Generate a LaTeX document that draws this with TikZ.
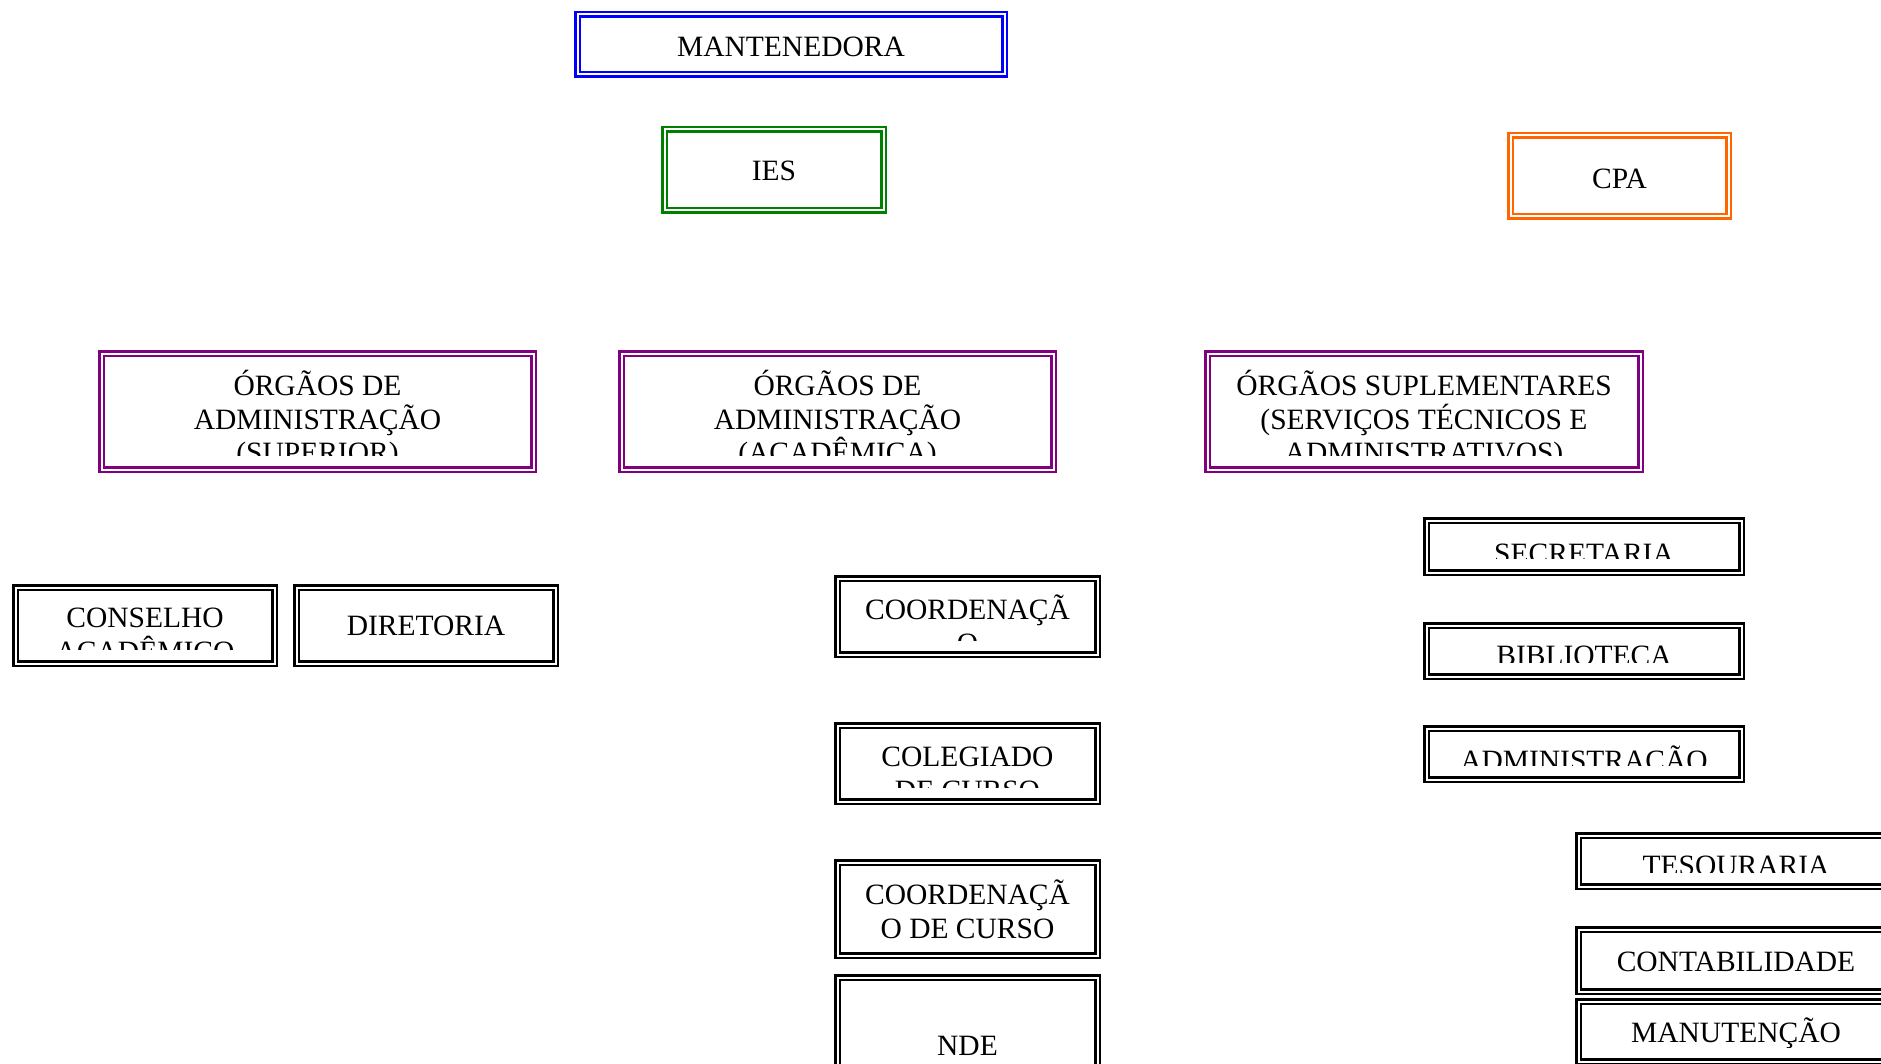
\documentclass[tikz,border=0pt]{standalone}
\usepackage{fontspec}
\setmainfont{Liberation Serif}
\tikzset{
	x=1pt, y=-1pt,
	orgbox/.style ={draw=#1, double, line width=2.8, double distance=2.0, inner sep=0pt}, % double frame of every unit
	lbl/.style = {font=\fontsize{29.5}{33.5}\selectfont, align=center, inner sep=0pt, minimum width=0pt, minimum height=0pt, anchor=north},
	boxtext/.style 2 args={path picture={% #1 = baseline below the top of the frame, text is cut near the bottom
		\clip ([yshift=14pt]path picture bounding box.south west) rectangle (path picture bounding box.north east);
		\node[lbl] at ([yshift={30-#1}]path picture bounding box.north) {\rule{0pt}{30pt}#2};
	}}
}
\begin{document}
\lineskiplimit=-100pt
\begin{tikzpicture}
\definecolor{mantblue}{RGB}{0,0,255}
\definecolor{iesgreen}{RGB}{0,128,0}
\definecolor{cpaorange}{RGB}{255,102,0}
\definecolor{orgpurple}{RGB}{128,0,128}
\useasboundingbox (0,0) rectangle (1881,1064);
\clip (0,0) rectangle (1881,1064);
% top
\node[orgbox=mantblue, minimum width=427, minimum height=60, boxtext={40.5}{MANTENEDORA}] (mant) at (791,44.5) {};
\node[orgbox=iesgreen, minimum width=219, minimum height=81, boxtext={50}{IES}] (ies) at (774,170) {};
\node[orgbox=cpaorange, minimum width=218, minimum height=81, boxtext={51.5}{CPA}] (cpa) at (1619.5,176) {};
% orgaos
\node[orgbox=orgpurple, minimum width=432, minimum height=116, boxtext={41}{ÓRGÃOS DE\\ADMINISTRAÇÃO\\(SUPERIOR)}] (orgsup) at (317.5,411.5) {};
\node[orgbox=orgpurple, minimum width=432, minimum height=116, boxtext={41}{ÓRGÃOS DE\\ADMINISTRAÇÃO\\(ACADÊMICA)}] (orgacad) at (837.5,411.5) {};
\node[orgbox=orgpurple, minimum width=433, minimum height=116, boxtext={41}{ÓRGÃOS SUPLEMENTARES\\(SERVIÇOS TÉCNICOS E\\ADMINISTRATIVOS)}] (orgsupl) at (1424,411.5) {};
% superior
\node[orgbox=black, minimum width=259, minimum height=76, boxtext={39}{CONSELHO\\ACADÊMICO}] (cons) at (145,625.5) {};
\node[orgbox=black, minimum width=259, minimum height=76, boxtext={47}{DIRETORIA}] (dir) at (426,625.5) {};
% academica
\node[orgbox=black, minimum width=260, minimum height=76, boxtext={40}{COORDENAÇÃ\\O}] (coord) at (967.5,616.5) {};
\node[orgbox=black, minimum width=260, minimum height=76, boxtext={40}{COLEGIADO\\DE CURSO}] (coleg) at (967.5,763.5) {};
\node[orgbox=black, minimum width=260, minimum height=93, boxtext={41}{COORDENAÇÃ\\O DE CURSO}] (coordcur) at (967.5,909) {};
\node[orgbox=black, minimum width=260, minimum height=152, boxtext={77}{NDE}] (nde) at (967.5,1053.5) {};
% suplementares
\node[orgbox=black, minimum width=315, minimum height=52, boxtext={41.5}{SECRETARIA}] (secr) at (1584,546.5) {};
\node[orgbox=black, minimum width=315, minimum height=51, boxtext={39}{BIBLIOTECA}] (bibl) at (1584,651) {};
\node[orgbox=black, minimum width=315, minimum height=51, boxtext={41}{ADMINISTRAÇÃO}] (adm) at (1584,754) {};
\node[orgbox=black, minimum width=315, minimum height=51, boxtext={39}{TESOURARIA}] (tes) at (1736,861) {};
\node[orgbox=black, minimum width=315, minimum height=62, boxtext={40.5}{CONTABILIDADE}] (cont) at (1736,960.5) {};
\node[orgbox=black, minimum width=315, minimum height=60, boxtext={40}{MANUTENÇÃO}] (manut) at (1736,1031.5) {};
\end{tikzpicture}
\end{document}
